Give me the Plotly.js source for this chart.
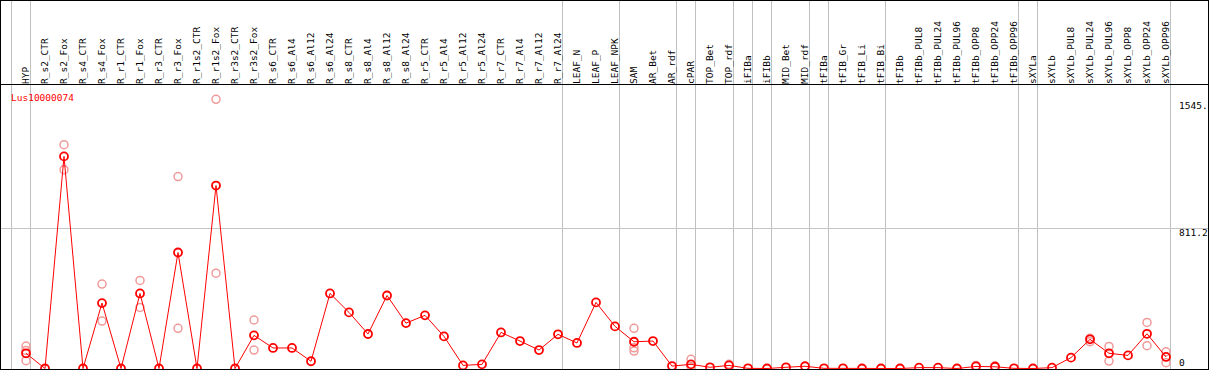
<!DOCTYPE html>
<html>
<head>
<meta charset="utf-8">
<script src="https://cdn.plot.ly/plotly-3.0.1.min.js"></script>
<style>html,body{margin:0;padding:0;background:#fff;}#chart{width:1209px;height:370px;}</style>
</head>
<body>
<div id="chart"></div>
<script>
const categories = ['HYP','R_s2_CTR','R_s2_Fox','R_s4_CTR','R_s4_Fox','R_r1_CTR','R_r1_Fox','R_r3_CTR','R_r3_Fox',
  'R_r1s2_CTR','R_r1s2_Fox','R_r3s2_CTR','R_r3s2_Fox','R_s6_CTR','R_s6_Al4','R_s6_Al12','R_s6_Al24',
  'R_s8_CTR','R_s8_Al4','R_s8_Al12','R_s8_Al24','R_r5_CTR','R_r5_Al4','R_r5_Al12','R_r5_Al24',
  'R_r7_CTR','R_r7_Al4','R_r7_Al12','R_r7_Al24','LEAF_N','LEAF_P','LEAF_NPK','SAM','AR_Bet','AR_rdf',
  'cPAR','TOP_Bet','TOP_rdf','iFIBa','iFIBb','MID_Bet','MID_rdf','tFIBa','tFIB_Gr','tFIB_Li','tFIB_Bi',
  'tFIBb','tFIBb_PUL8','tFIBb_PUL24','tFIBb_PUL96','tFIBb_OPP8','tFIBb_OPP24','tFIBb_OPP96',
  'sXYLa','sXYLb','sXYLb_PUL8','sXYLb_PUL24','sXYLb_PUL96','sXYLb_OPP8','sXYLb_OPP24','sXYLb_OPP96'];

const meanValues = [88,0,1229,0,379,0,435,0,672,
  0,1060,0,192,119,119,42,435,
  325,200,423,263,308,186,18,24,
  209,159,107,198,148,383,244,155,159,14,
  24,7,18,1,0,7,13,1,1,0,0,
  0,5,5,0,12,10,1,
  0,5,63,169,88,76,201,67];

const repCategories = ['HYP','HYP','HYP','R_s2_Fox','R_s2_Fox','R_s4_Fox','R_s4_Fox','R_r1_Fox','R_r1_Fox',
  'R_r3_Fox','R_r3_Fox','R_r1s2_Fox','R_r1s2_Fox','R_r3s2_Fox','R_r3s2_Fox','SAM','SAM','SAM',
  'cPAR','cPAR','TOP_rdf','tFIBb_OPP8','tFIBb_OPP24',
  'sXYLb_PUL24','sXYLb_PUL24','sXYLb_PUL96','sXYLb_PUL96','sXYLb_OPP24','sXYLb_OPP24','sXYLb_OPP96','sXYLb_OPP96'];
const repValues = [130,105,45,1297,1152,489,275,510,354,
  1112,233,1560,552,281,107,233,120,101,
  53,12,24,18,16,
  175,155,128,43,267,132,97,34];

// group boundaries: separator drawn after these category indices (-1 = before the first)
const groupEnds = [-1,0,28,31,34,35,37,38,39,41,42,45,52,53,60];

const yTickValues = [0, 811.2, 1545];
const yTickText = ['0', '811.2', '1545.'];
const geneLabel = 'Lus10000074';

const idx = categories.map((c, i) => i);
const repIdx = repCategories.map(c => categories.indexOf(c));

const W = 1209, H = 370, T = 85, B = 1;
const plotH = H - T - B;
const xmin = -26 / 19, xmax = xmin + W / 19;
const yPerPx = 811.2 / 140;
const ymin = -0.5 * yPerPx, ymax = ymin + plotH * yPerPx;
const pyTop = (px) => (H - B - px) / plotH;   // pixel row -> paper y

const mono = 'DejaVu Sans Mono, monospace';
const shapes = [];
groupEnds.forEach(g => {
  shapes.push({type: 'line', xref: 'x', yref: 'paper', x0: g + 0.2368, x1: g + 0.2368,
    y0: pyTop(369.5), y1: pyTop(0), line: {color: '#c0c0c0', width: 1}, layer: 'below'});
});
const black = {color: '#000', width: 1};
shapes.push({type: 'line', xref: 'paper', yref: 'paper', x0: 0, x1: 1, y0: pyTop(0.5), y1: pyTop(0.5), line: black});
shapes.push({type: 'line', xref: 'paper', yref: 'paper', x0: 0, x1: 1, y0: pyTop(84.5), y1: pyTop(84.5), line: black});
shapes.push({type: 'line', xref: 'paper', yref: 'paper', x0: 0, x1: 1, y0: pyTop(369.5), y1: pyTop(369.5), line: black});
shapes.push({type: 'line', xref: 'paper', yref: 'paper', x0: 0.5 / W, x1: 0.5 / W, y0: pyTop(370), y1: pyTop(0), line: black});
shapes.push({type: 'line', xref: 'paper', yref: 'paper', x0: 1208.5 / W, x1: 1208.5 / W, y0: pyTop(370), y1: pyTop(0), line: black});

const annotations = yTickValues.map((v, i) => ({
  xref: 'paper', yref: 'y', x: 1178 / W, y: v, text: yTickText[i], showarrow: false,
  xanchor: 'left', yanchor: v === 0 ? 'bottom' : 'top', yshift: v === 0 ? 0 : 3,
  font: {family: mono, size: 9.5, color: '#000'}, borderpad: 0
}));
annotations.push({xref: 'paper', yref: 'paper', x: 10 / W, y: pyTop(97.7), text: geneLabel,
  showarrow: false, xanchor: 'left', yanchor: 'middle', borderpad: 0,
  font: {family: mono, size: 9.5, color: '#ff0000'}});

const traces = [
  {x: repIdx, y: repValues, type: 'scatter', mode: 'markers', cliponaxis: false, hoverinfo: 'skip',
   marker: {symbol: 'circle-open', size: 8, color: '#f09a9a', line: {width: 1.5, color: '#f09a9a'}}},
  {x: idx, y: meanValues, type: 'scatter', mode: 'lines+markers', cliponaxis: false,
   line: {color: '#ff0000', width: 1},
   marker: {symbol: 'circle-open', size: 8, color: '#ff0000', line: {width: 1.8, color: '#ee0000'}}}
];

const layout = {
  width: W, height: H, showlegend: false,
  paper_bgcolor: '#fff', plot_bgcolor: '#fff',
  margin: {l: 0, r: 0, t: T, b: B, pad: 0},
  xaxis: {range: [xmin, xmax], side: 'top', tickmode: 'array', tickvals: idx, ticktext: categories,
    tickangle: -90, ticks: '', showgrid: false, zeroline: false, showline: false, automargin: false,
    tickfont: {family: mono, size: 9.5, color: '#000'}, fixedrange: true},
  yaxis: {range: [ymin, ymax], tickmode: 'array', tickvals: [811.2], showticklabels: false,
    showgrid: true, gridcolor: '#c4c4c4', gridwidth: 1, zeroline: false, showline: false,
    automargin: false, fixedrange: true},
  shapes: shapes, annotations: annotations
};

Plotly.newPlot('chart', traces, layout, {displayModeBar: false, staticPlot: true});
</script>
</body>
</html>
